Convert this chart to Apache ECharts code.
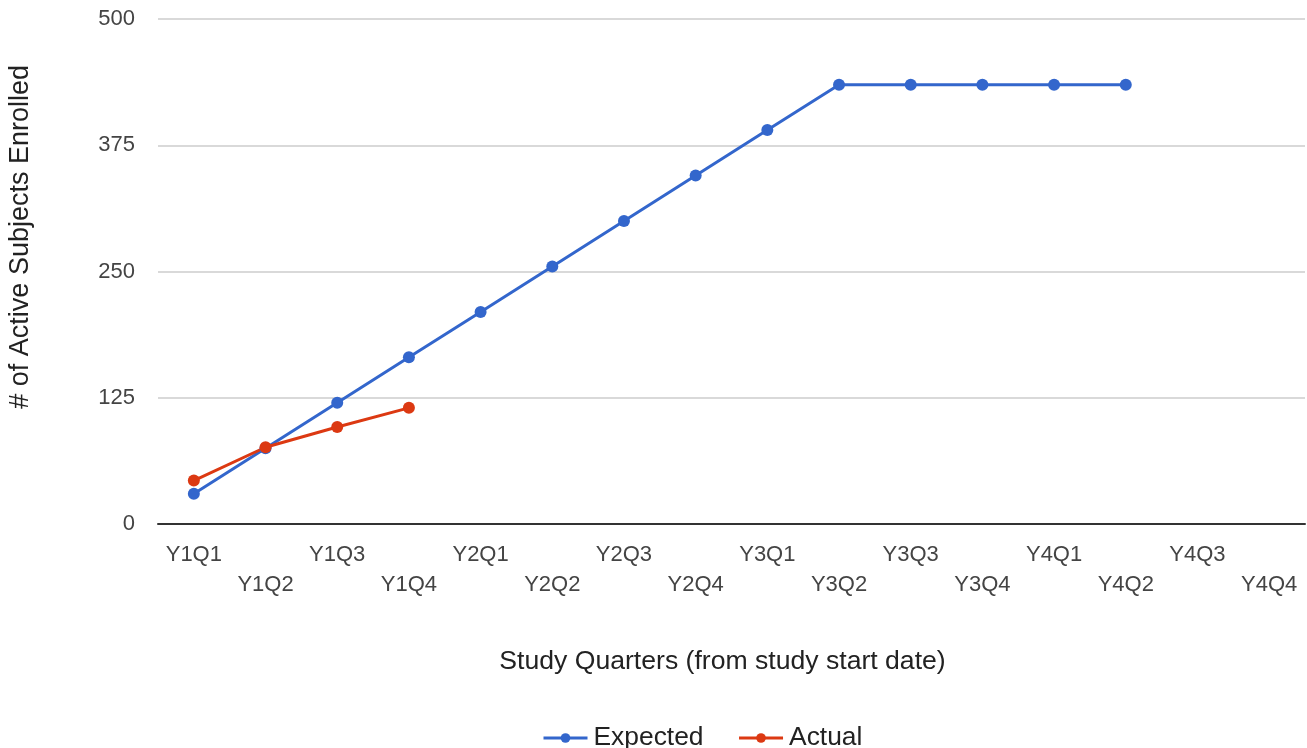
<!DOCTYPE html>
<html>
<head>
<meta charset="utf-8">
<script src="https://cdn.jsdelivr.net/npm/echarts@6/dist/echarts.min.js"></script>
<style>html,body{margin:0;padding:0;background:#fff}#c{width:1307px;height:748px}</style>
</head>
<body>
<div id="c"></div>
<script>
const categories = ['Y1Q1','Y1Q2','Y1Q3','Y1Q4','Y2Q1','Y2Q2','Y2Q3','Y2Q4','Y3Q1','Y3Q2','Y3Q3','Y3Q4','Y4Q1','Y4Q2','Y4Q3','Y4Q4'];
const expected = [30,75,120,165,210,255,300,345,390,435,435,435,435,435,null,null];
const actual = [43,76,96,115,null,null,null,null,null,null,null,null,null,null,null,null];
const yTicks = {min:0, max:500, interval:125};

const font = '"Liberation Sans", Arial, sans-serif';
const chart = echarts.init(document.getElementById('c'));
chart.setOption({
  animation:false,
  textStyle:{fontFamily:font},
  grid:{left:158, right:2, top:19, bottom:224},
  legend:{
    bottom:-3, left:542, padding:0, itemWidth:44, itemHeight:12, itemGap:34,
    lineStyle:{width:3},
    textStyle:{fontSize:26.4, color:'#222', fontFamily:font, padding:[0,0,0,1]},
    data:['Expected','Actual']
  },
  xAxis:{
    type:'category', data:categories, boundaryGap:true,
    axisTick:{show:false},
    axisLine:{lineStyle:{color:'#333', width:2}},
    axisLabel:{interval:0, fontSize:22, color:'#444', fontFamily:font, margin:16, lineHeight:30,
      formatter:(v,i)=> i%2 ? '\n'+v : v},
    name:'Study Quarters (from study start date)', nameLocation:'middle', nameGap:124,
    nameTextStyle:{fontSize:26.6, color:'#222', fontFamily:font, padding:[0,18,0,0]}
  },
  yAxis:{
    type:'value', min:yTicks.min, max:yTicks.max, interval:yTicks.interval,
    axisLine:{show:false}, axisTick:{show:false},
    axisLabel:{fontSize:22, color:'#444', fontFamily:font, margin:23},
    splitLine:{lineStyle:{color:'#ccc', width:1.5}}
  },
  graphic:[{
    type:'text', left:7, top:65, rotation:Math.PI/2,
    style:{text:'# of Active Subjects Enrolled', fontSize:27, fill:'#222', fontFamily:font}
  }],
  series:[
    {name:'Expected', type:'line', data:expected, color:'#3366cc', symbol:'circle', symbolSize:12,
      lineStyle:{width:3}, connectNulls:false},
    {name:'Actual', type:'line', data:actual, color:'#dc3912', symbol:'circle', symbolSize:12,
      lineStyle:{width:3}}
  ]
});
</script>
</body>
</html>
